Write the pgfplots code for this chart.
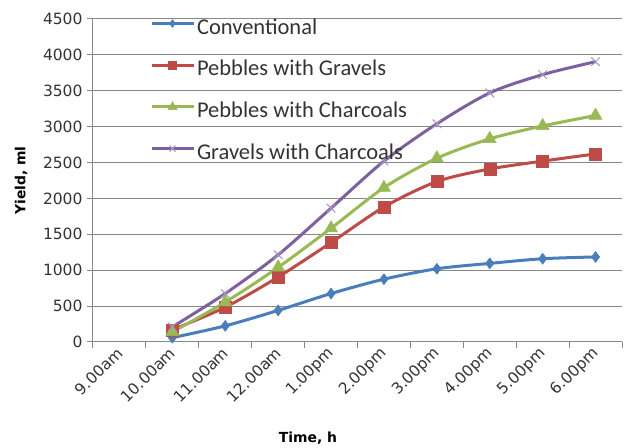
\documentclass[border=0pt]{standalone}
\usepackage{fontspec}
\setmainfont{Carlito}
\newfontfamily\tickfont{DejaVu Sans}
\usepackage{pgfplots}
\pgfplotsset{compat=1.18}

\definecolor{gridgray}{HTML}{888888}
\definecolor{txtgray}{HTML}{333333}
\definecolor{sblue}{HTML}{4A7EBB}
\definecolor{sred}{HTML}{BE4B48}
\definecolor{sgreen}{HTML}{98B954}
\definecolor{spurple}{HTML}{7D60A0}
\definecolor{spurplelt}{HTML}{A793C6}

\begin{document}
\begin{tikzpicture}
\begin{axis}[
  scale only axis,
  width=529pt, height=323pt,
  xmin=0, xmax=10, ymin=0, ymax=4500,
  axis x line*=bottom, axis y line*=left,
  axis line style={-, draw=gridgray, line width=1pt},
  tick align=outside,
  xtick={0.5,1.5,...,9.5},
  xticklabels={9.00am,10.00am,11.00am,12.00am,1.00pm,2.00pm,3.00pm,4.00pm,5.00pm,6.00pm},
  minor xtick={0,1,...,10},
  major x tick style={draw=none},
  minor tick length=6pt,
  major tick length=6pt,
  every tick/.style={draw=gridgray, line width=1pt},
  ytick={0,500,...,4500},
  ymajorgrids,
  grid style={draw=gridgray, line width=1pt},
  /pgf/number format/.cd, 1000 sep={}, assume math mode=true, /pgfplots/.cd,
  ticklabel style={font=\tickfont\fontsize{15.5}{18}\selectfont, text=txtgray},
  xticklabel style={rotate=45, anchor=east, yshift=-2pt, xshift=2pt},
  yticklabel style={xshift=-1pt},
  xlabel={Time, h},
  ylabel={Yield, ml},
  xlabel style={at={(axis description cs:0.4064,-0.2972)}, anchor=center,
    font=\tickfont\bfseries\fontsize{13.9}{16}\selectfont, text=black},
  ylabel style={at={(axis description cs:-0.1361,0.5)}, anchor=center,
    font=\tickfont\bfseries\fontsize{13.9}{16}\selectfont, text=black},
  legend style={draw=none, fill=none, inner sep=0pt, outer sep=0pt,
    at={(axis description cs:0.1078,1.003)}, anchor=north west,
    font=\fontsize{22.5}{26}\selectfont, text=txtgray,
    nodes={inner sep=0pt, text height=16pt, text depth=5pt},
    row sep=20.7pt, column sep=2pt},
  legend cell align=left,
  legend image code/.code={
    \draw[mark repeat=2, mark phase=2, every mark/.append style={scale=0.7}]
      plot coordinates {(0pt,5pt) (21pt,5pt) (42pt,5pt)};
  },
  every axis plot/.append style={line width=3pt, smooth, tension=0.5},
  clip=false,
]
\coordinate (ll) at (rel axis cs:0,0);
\coordinate (ur) at (rel axis cs:1,1);

% Conventional
\addplot[sblue, mark=diamond*, mark size=5.5pt,
  mark options={fill=sblue, draw=sblue, line width=0.5pt}]
  coordinates {(1.5,60) (2.5,225) (3.5,440) (4.5,675) (5.5,875)
               (6.5,1020) (7.5,1095) (8.5,1160) (9.5,1185)};
\addlegendentry{Conventional}

% Pebbles with Gravels
\addplot[sred, mark=square*, mark size=6pt,
  mark options={fill=sred, draw=sred, line width=0.5pt}]
  coordinates {(1.5,170) (2.5,485) (3.5,905) (4.5,1385) (5.5,1880)
               (6.5,2235) (7.5,2410) (8.5,2520) (9.5,2620)};
\addlegendentry{Pebbles with Gravels}

% Pebbles with Charcoals
\addplot[sgreen, mark=triangle*, mark size=7.5pt,
  mark options={fill=sgreen, draw=sgreen, line width=0.5pt}]
  coordinates {(1.5,140) (2.5,555) (3.5,1040) (4.5,1585) (5.5,2150)
               (6.5,2560) (7.5,2830) (8.5,3010) (9.5,3155)};
\addlegendentry{Pebbles with Charcoals}

% Gravels with Charcoals
\addplot[spurple, mark=x, mark size=6pt,
  mark options={draw=spurplelt, line width=1pt}]
  coordinates {(1.5,210) (2.5,675) (3.5,1215) (4.5,1865) (5.5,2520)
               (6.5,3040) (7.5,3470) (8.5,3725) (9.5,3905)};
\addlegendentry{Gravels with Charcoals}
\end{axis}
\pgfresetboundingbox
\path ([shift={(-93pt,-106pt)}]ll) rectangle ([shift={(7pt,19pt)}]ur);
\end{tikzpicture}
\end{document}
